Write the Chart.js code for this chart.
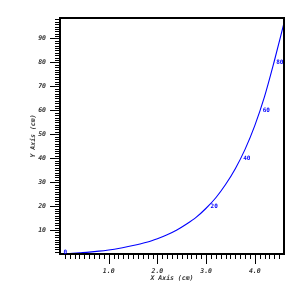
<!DOCTYPE html>
<html>
<head>
<meta charset="utf-8">
<script src="https://cdn.jsdelivr.net/npm/chart.js@4.4.1/dist/chart.umd.min.js"></script>
<style>
html,body{margin:0;padding:0;background:#fff;}
#wrap{width:300px;height:300px;}
</style>
</head>
<body>
<div id="wrap"><canvas id="c" width="300" height="300"></canvas></div>
<script>
// Curve values
const xValues = [0,0.2,0.4,0.6,0.8,1.0,1.2,1.4,1.6,1.8,2.0,2.2,2.4,2.6,2.8,3.0,3.2,3.4,3.6,3.8,4.0,4.2,4.4,4.6];
const yValues = [0,0.2,0.5,0.8,1.2,1.7,2.3,3.1,4.0,5.0,6.4,8.0,10.0,12.5,15.4,19.1,23.5,29.0,35.6,43.7,53.6,65.7,80.5,96.5];
// Axis tick labels
const xTickValues = [1,2,3,4];
const yTickValues = [10,20,30,40,50,60,70,80,90];
// Curve labels (positions)
const curveLabelText = ["0","20","40","60","80"];
const curveLabelX = [0.03,3.05,3.72,4.12,4.40];
const curveLabelY = [0.8,20,40,60,80];

const xTitle = "X Axis (cm)";
const yTitle = "Y Axis (cm)";

const tickFont = {family:"'DejaVu Sans Mono', monospace", size:6.5, style:'italic', weight:'bold'};

const framePlugin = {
  id:'frame',
  afterDraw(chart){
    const ctx = chart.ctx;
    const xs = chart.scales.x, ys = chart.scales.y;
    const a = chart.chartArea;
    ctx.save();
    ctx.strokeStyle = '#000';
    ctx.lineWidth = 1;
    ctx.beginPath();
    for (let i = 1; i <= 45; i++) {
      const px = Math.round(xs.getPixelForValue(i/10)) + 0.5;
      const len = (i % 10 === 0) ? 10 : 5;
      ctx.moveTo(px, a.bottom);
      ctx.lineTo(px, a.bottom + len);
    }
    for (let j = 1; j <= 98; j++) {
      const py = Math.round(ys.getPixelForValue(j)) + 0.5;
      const len = (j % 10 === 0) ? 10 : 5;
      ctx.moveTo(a.left, py);
      ctx.lineTo(a.left - len, py);
    }
    ctx.stroke();
    ctx.lineWidth = 2;
    ctx.strokeRect(Math.round(a.left), Math.round(a.top), Math.round(a.right - a.left), Math.round(a.bottom - a.top));
    ctx.fillStyle = '#0000ff';
    ctx.font = "bold 6px 'DejaVu Sans Mono', monospace";
    ctx.textBaseline = 'middle';
    ctx.textAlign = 'left';
    for (let k = 0; k < curveLabelText.length; k++) {
      const px = xs.getPixelForValue(curveLabelX[k]) + 2;
      const py = ys.getPixelForValue(curveLabelY[k]);
      ctx.fillText(curveLabelText[k], px, py);
    }
    ctx.restore();
  }
};

new Chart(document.getElementById('c'), {
  type:'scatter',
  data:{
    datasets:[{
      data: xValues.map((x,i)=>({x:x, y:yValues[i]})),
      showLine:true,
      borderColor:'#0000ff',
      borderWidth:1.1,
      pointRadius:0,
      cubicInterpolationMode:'monotone',
      fill:false
    }]
  },
  options:{
    responsive:false,
    animation:false,
    devicePixelRatio:1,
    layout:{padding:{top:14,right:16,left:0,bottom:0}},
    plugins:{legend:{display:false},tooltip:{enabled:false}},
    scales:{
      x:{
        type:'linear', min:0, max:4.6,
        grid:{display:false, drawTicks:false},
        border:{display:false},
        afterBuildTicks(s){ s.ticks = xTickValues.map(v=>({value:v})); },
        afterFit(s){ s.height = 46; },
        ticks:{
          font:tickFont, color:'#333', padding:13, maxRotation:0, autoSkip:false,
          callback:(v)=>Number(v).toFixed(1)
        },
        title:{display:true, text:xTitle, font:tickFont, color:'#333', padding:{top:0,bottom:18}}
      },
      y:{
        type:'linear', min:0, max:98.6,
        grid:{display:false, drawTicks:false},
        border:{display:false},
        afterBuildTicks(s){ s.ticks = yTickValues.map(v=>({value:v})); },
        afterFit(s){ s.width = 60; },
        ticks:{
          font:tickFont, color:'#333', padding:14, autoSkip:false,
          callback:(v)=>String(v)
        },
        title:{display:true, text:yTitle, font:tickFont, color:'#333', padding:{top:29,bottom:0}}
      }
    }
  },
  plugins:[framePlugin]
});
</script>
</body>
</html>
